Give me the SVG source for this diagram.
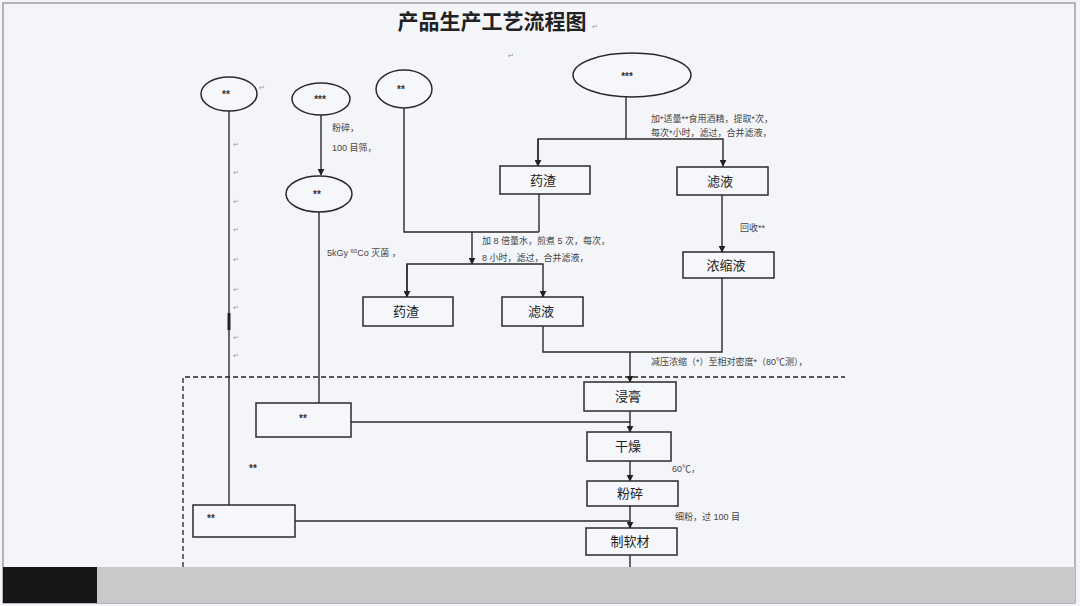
<svg xmlns="http://www.w3.org/2000/svg" width="1080" height="606" viewBox="0 0 1080 606">
<style>
.ln{fill:none;stroke:#2a2a2a;stroke-width:1.4}
.bx{fill:#f6f7fb;stroke:#2a2a2a;stroke-width:1.5}
.el{fill:#f6f7fb;stroke:#2a2a2a;stroke-width:1.5}
.lb{font-family:"Liberation Sans","Noto Sans CJK SC",sans-serif;font-size:13px;fill:#222;text-anchor:middle}
.st{font-family:"Liberation Sans","Noto Sans CJK SC",sans-serif;font-size:10px;font-weight:bold;fill:#333;text-anchor:middle}
.an{font-family:"Liberation Sans","Noto Sans CJK SC",sans-serif;font-size:9px;fill:#444}
.pm{font-family:"Liberation Sans","Noto Sans CJK SC",sans-serif;font-size:7px;fill:#999}
</style>
<defs>
<marker id="ar" viewBox="0 0 10 10" refX="9" refY="5" markerWidth="7" markerHeight="7" markerUnits="userSpaceOnUse" orient="auto">
<path d="M0,0 L10,5 L0,10 z" fill="#222"/>
</marker>
</defs>
<rect x="0" y="0" width="1080" height="606" fill="#f4f5f9"/>
<rect x="3" y="3" width="1072" height="600" fill="none" stroke="#8a8a8a" stroke-width="1.2"/>
<rect x="3" y="567" width="1072" height="36" fill="#c9c9c9"/>
<rect x="3" y="567" width="94" height="36" fill="#161616"/>
<text x="492" y="29" font-family="'Noto Sans CJK SC',sans-serif" font-size="21" font-weight="bold" fill="#222" text-anchor="middle">产品生产工艺流程图</text>
<text x="592" y="29" class="pm">↵</text>
<text x="508" y="58" class="pm">↵</text>
<g id="connectors">
<line class="ln" x1="229" y1="110" x2="229" y2="505"/>
<line x1="229" y1="313" x2="229" y2="330" stroke="#222" stroke-width="3"/>
<line class="ln" x1="321" y1="115" x2="321" y2="175" marker-end="url(#ar)"/>
<line class="ln" x1="319" y1="212" x2="319" y2="403"/>
<polyline class="ln" points="404,108 404,232 539,232"/>
<line class="ln" x1="539" y1="194" x2="539" y2="232"/>
<line class="ln" x1="472" y1="232" x2="472" y2="264" marker-end="url(#ar)"/>
<polyline class="ln" points="407,297 407,264 543,264 543,297" marker-end="url(#ar)"/>
<line class="ln" x1="407" y1="264" x2="407" y2="297" marker-end="url(#ar)"/>
<line class="ln" x1="626" y1="97" x2="626" y2="139"/>
<polyline class="ln" points="538,166 538,139 723,139 723,166" marker-end="url(#ar)"/>
<line class="ln" x1="538" y1="139" x2="538" y2="166" marker-end="url(#ar)"/>
<line class="ln" x1="722" y1="195" x2="722" y2="252" marker-end="url(#ar)"/>
<polyline class="ln" points="722,278 722,352 543,352 543,326"/>
<line class="ln" x1="630" y1="352" x2="630" y2="382" marker-end="url(#ar)"/>
<line class="ln" x1="630" y1="411" x2="630" y2="432" marker-end="url(#ar)"/>
<line class="ln" x1="351" y1="422" x2="630" y2="422"/>
<line class="ln" x1="630" y1="461" x2="630" y2="481" marker-end="url(#ar)"/>
<line class="ln" x1="630" y1="506" x2="630" y2="528" marker-end="url(#ar)"/>
<line class="ln" x1="295" y1="521" x2="630" y2="521"/>
<line class="ln" x1="630" y1="555" x2="630" y2="567"/>
<polyline points="183,567 183,377 845,377" fill="none" stroke="#222" stroke-width="1.3" stroke-dasharray="5,3"/>
</g>
<g id="e1"><ellipse class="el" cx="229" cy="94" rx="28" ry="17"/><text x="226" y="98" class="st">**</text><text x="259" y="90" class="pm">↵</text></g>
<g id="e2"><ellipse class="el" cx="321" cy="99" rx="29" ry="16"/><text x="320" y="103" class="st">***</text></g>
<g id="e3"><ellipse class="el" cx="404" cy="89" rx="28" ry="19"/><text x="401" y="93" class="st">**</text></g>
<g id="e4"><ellipse class="el" cx="319" cy="194" rx="33" ry="18"/><text x="317" y="198" class="st">**</text></g>
<g id="e5"><ellipse class="el" cx="632" cy="75" rx="59" ry="22"/><text x="627" y="80" class="st">***</text></g>
<g id="yaozha1"><rect class="bx" x="500" y="166" width="90" height="28"/><text x="543" y="185" class="lb">药渣</text></g>
<g id="lvye1"><rect class="bx" x="677" y="167" width="91" height="28"/><text x="720" y="186" class="lb">滤液</text></g>
<g id="nongsuo"><rect class="bx" x="683" y="252" width="91" height="26"/><text x="726" y="270" class="lb">浓缩液</text></g>
<g id="yaozha2"><rect class="bx" x="363" y="297" width="90" height="29"/><text x="406" y="316" class="lb">药渣</text></g>
<g id="lvye2"><rect class="bx" x="502" y="297" width="81" height="29"/><text x="541" y="316" class="lb">滤液</text></g>
<g id="jingao"><rect class="bx" x="584" y="382" width="92" height="29"/><text x="628" y="401" class="lb">浸膏</text></g>
<g id="ganzao"><rect class="bx" x="587" y="432" width="84" height="29"/><text x="628" y="451" class="lb">干燥</text></g>
<g id="fensui"><rect class="bx" x="587" y="481" width="91" height="25"/><text x="630" y="498" class="lb">粉碎</text></g>
<g id="zhiruancai"><rect class="bx" x="586" y="528" width="91" height="27"/><text x="630" y="546" class="lb">制软材</text></g>
<g id="box_mid"><rect class="bx" x="256" y="403" width="95" height="34"/><text x="303" y="422" class="st">**</text></g>
<g id="box_bottom"><rect class="bx" x="193" y="505" width="102" height="32"/><text x="211" y="522" class="st">**</text></g>
<g id="annotations">
<text x="332" y="131" class="an">粉碎，</text>
<text x="332" y="151" class="an">100 目筛，</text>
<text x="651" y="122" class="an">加*适量**食用酒精，提取*次，</text>
<text x="651" y="136" class="an">每次*小时，滤过，合并滤液，</text>
<text x="482" y="244" class="an">加 8 倍量水，煎煮 5 次，每次，</text>
<text x="482" y="261" class="an">8 小时，滤过，合并滤液，</text>
<text x="327" y="256" class="an">5kGy <tspan font-size="6" dy="-3">60</tspan><tspan dy="3">Co 灭菌 ，</tspan></text>
<text x="740" y="231" class="an">回收**</text>
<text x="651" y="365" class="an">减压浓缩（*）至相对密度*（80℃测），</text>
<text x="672" y="472" class="an">60℃，</text>
<text x="675" y="520" class="an">细粉，过 100 目</text>
<text x="253" y="472" class="st">**</text>
</g>
<g id="marks">
<text x="233" y="147" class="pm">↵</text>
<text x="233" y="175" class="pm">↵</text>
<text x="233" y="204" class="pm">↵</text>
<text x="233" y="232" class="pm">↵</text>
<text x="233" y="262" class="pm">↵</text>
<text x="233" y="292" class="pm">↵</text>
<text x="233" y="310" class="pm">↵</text>
<text x="233" y="340" class="pm">↵</text>
<text x="233" y="358" class="pm">↵</text>
</g>
</svg>
